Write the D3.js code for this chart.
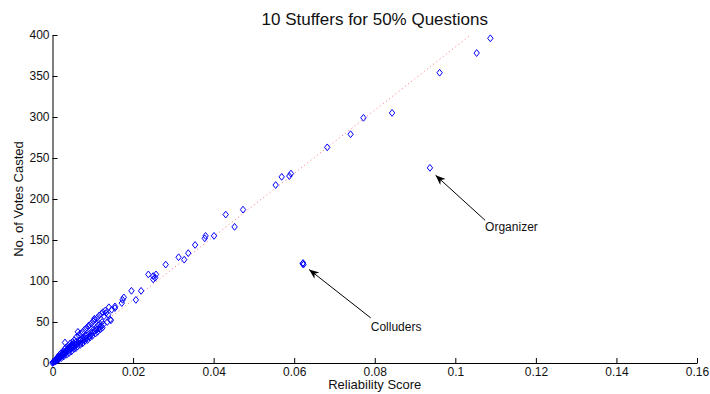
<!DOCTYPE html>
<html>
<head>
<meta charset="utf-8">
<script src="https://cdn.jsdelivr.net/npm/d3@7"></script>
<style>
  body { margin: 0; background: #fff; }
  svg { font-family: "Liberation Sans", Arial, sans-serif; }
</style>
</head>
<body>
<div id="chart"></div>
<script>
// reliability score vs votes casted, one entry per voter
const scoreValues = [
  0.0000, 0.0001, 0.0002, 0.0003, 0.0004, 0.0005, 0.0006, 0.0006, 0.0007, 0.0008,
  0.0009, 0.0010, 0.0010, 0.0011, 0.0012, 0.0013, 0.0013, 0.0014, 0.0015, 0.0016,
  0.0017, 0.0018, 0.0019, 0.0020, 0.0021, 0.0022, 0.0023, 0.0024, 0.0025, 0.0026,
  0.0027, 0.0028, 0.0029, 0.0030, 0.0031, 0.0032, 0.0033, 0.0034, 0.0035, 0.0036,
  0.0037, 0.0038, 0.0039, 0.0040, 0.0042, 0.0043, 0.0045, 0.0046, 0.0048, 0.0049,
  0.0050, 0.0052, 0.0053, 0.0055, 0.0056, 0.0058, 0.0059, 0.0061, 0.0063, 0.0064,
  0.0066, 0.0068, 0.0070, 0.0072, 0.0074, 0.0076, 0.0078, 0.0080, 0.0082, 0.0084,
  0.0086, 0.0089, 0.0090, 0.0092, 0.0095, 0.0097, 0.0100, 0.0102, 0.0104, 0.0105,
  0.0108, 0.0110, 0.0113, 0.0115, 0.0118, 0.0120, 0.0123, 0.0126, 0.0128, 0.0133,
  0.0136, 0.0138, 0.0143, 0.0145, 0.0147, 0.0155, 0.0155, 0.0172, 0.0174, 0.0177,
  0.0196, 0.0207, 0.0220, 0.0238, 0.0250, 0.0250, 0.0255, 0.0257, 0.0281, 0.0313,
  0.0327, 0.0337, 0.0354, 0.0378, 0.0380, 0.0401, 0.0430, 0.0452, 0.0473, 0.0554,
  0.0569, 0.0588, 0.0592, 0.0682, 0.0740, 0.0772, 0.0843, 0.0961, 0.1053, 0.1087,
  0.0937,
  0.0621, 0.0622, 0.0623,
  // extra spread inside the dense band
  0.0012, 0.0017, 0.0021, 0.0026, 0.0030, 0.0034, 0.0040, 0.0044, 0.0050, 0.0054,
  0.0060, 0.0065, 0.0070, 0.0075, 0.0080, 0.0085, 0.0091, 0.0096, 0.0101, 0.0106,
  0.0111, 0.0116, 0.0121, 0.0125, 0.0131, 0.0140,
  0.0008, 0.0015, 0.0022, 0.0028, 0.0035, 0.0041, 0.0047, 0.0053, 0.0058, 0.0062,
  0.0069, 0.0075, 0.0081, 0.0087, 0.0093, 0.0099, 0.0107, 0.0112, 0.0119, 0.0124
];
const voteValues = [
  0, 1, 1, 1, 2, 2, 3, 2, 3, 4,
  3, 4, 5, 4, 5, 6, 4, 6, 7, 6,
  7, 8, 7, 9, 8, 10, 9, 11, 9, 12,
  10, 12, 11, 13, 25, 12, 14, 15, 13, 16,
  14, 17, 15, 18, 16, 19, 17, 20, 18, 22,
  19, 21, 24, 20, 23, 22, 26, 23, 38, 25,
  27, 24, 28, 26, 30, 28, 31, 29, 33, 30,
  34, 45, 32, 36, 34, 38, 37, 41, 54, 39,
  43, 41, 46, 42, 48, 45, 50, 47, 57, 61,
  50, 59, 53, 52, 65, 67, 69, 73, 77, 80,
  88, 77, 88, 108, 102, 106, 104, 108, 120, 129,
  126, 134, 144, 152, 155, 155, 181, 166, 187, 217,
  227, 228, 231, 263, 279, 299, 305, 354, 378, 396,
  238,
  121, 122, 120,
  7, 10, 12, 14, 17, 19, 21, 24, 26, 28,
  32, 34, 36, 38, 41, 43, 46, 48, 51, 53,
  55, 58, 60, 62, 64, 68,
  2, 4, 6, 8, 10, 12, 14, 17, 18, 20,
  22, 24, 27, 28, 31, 33, 36, 38, 41, 43
];

// dotted fit line
const fitScores = [0, 0.1038];
const fitVotes = [0, 400];

const xTicks = [0, 0.02, 0.04, 0.06, 0.08, 0.1, 0.12, 0.14, 0.16];
const xTickLabels = ["0", "0.02", "0.04", "0.06", "0.08", "0.1", "0.12", "0.14", "0.16"];
const yTicks = [0, 50, 100, 150, 200, 250, 300, 350, 400];
const yTickLabels = ["0", "50", "100", "150", "200", "250", "300", "350", "400"];

// annotations: label, text anchor point, arrow tail, arrow head (data units)
const noteLabels = ["Organizer", "Colluders"];
const noteText = [[0.1074, 161], [0.0790, 39]];
const noteTail = [[0.1074, 174], [0.0790, 55]];
const noteHead = [[0.0951, 229], [0.0637, 114]];

const W = 710, H = 394;
const margin = {top: 35, right: 13, bottom: 31, left: 52.5};

const svg = d3.select("#chart").append("svg")
    .attr("width", W)
    .attr("height", H);

const x = d3.scaleLinear().domain([0, 0.16]).range([margin.left, W - margin.right]);
const y = d3.scaleLinear().domain([0, 400]).range([H - margin.bottom, margin.top]);

svg.append("defs").append("marker")
    .attr("id", "head")
    .attr("viewBox", "0 0 10 10")
    .attr("refX", 10).attr("refY", 5)
    .attr("markerWidth", 10).attr("markerHeight", 10)
    .attr("markerUnits", "userSpaceOnUse")
    .attr("orient", "auto")
  .append("path")
    .attr("d", "M0,1 L10,5 L0,9 L3,5 Z")
    .attr("fill", "#000");

// x axis, ticks pointing in
const xAxis = svg.append("g")
    .attr("transform", "translate(0," + y(0) + ")")
    .call(d3.axisBottom(x)
        .tickValues(xTicks)
        .tickFormat((d, i) => xTickLabels[i])
        .tickSizeInner(-5).tickSizeOuter(0).tickPadding(4));

const yAxis = svg.append("g")
    .attr("transform", "translate(" + x(0) + ",0)")
    .call(d3.axisLeft(y)
        .tickValues(yTicks)
        .tickFormat((d, i) => yTickLabels[i])
        .tickSizeInner(-5).tickSizeOuter(0).tickPadding(3));

[xAxis, yAxis].forEach(g => {
  g.style("font", "12px 'Liberation Sans', Arial, sans-serif");
  g.selectAll("path, line").attr("stroke", "#000");
  g.selectAll("text").attr("fill", "#111");
});

// fit line
svg.append("path")
    .datum(d3.zip(fitScores, fitVotes))
    .attr("fill", "none")
    .attr("stroke", "#ff7070")
    .attr("stroke-width", 1)
    .attr("stroke-dasharray", "1,3")
    .attr("d", d3.line().x(d => x(d[0])).y(d => y(d[1])));

// diamond markers
svg.append("g")
  .selectAll("path")
  .data(d3.zip(scoreValues, voteValues))
  .join("path")
    .attr("transform", d => "translate(" + x(d[0]) + "," + y(d[1]) + ")")
    .attr("d", "M0,-3.4 L2.7,0 L0,3.4 L-2.7,0 Z")
    .attr("fill", "none")
    .attr("stroke", "#0000ff")
    .attr("stroke-width", 1);

// annotations
noteLabels.forEach((lab, i) => {
  svg.append("line")
      .attr("x1", x(noteTail[i][0])).attr("y1", y(noteTail[i][1]))
      .attr("x2", x(noteHead[i][0])).attr("y2", y(noteHead[i][1]))
      .attr("stroke", "#000")
      .attr("stroke-width", 1)
      .attr("marker-end", "url(#head)");
  svg.append("text")
      .attr("x", x(noteText[i][0]))
      .attr("y", y(noteText[i][1]))
      .attr("font-size", 12)
      .attr("fill", "#111")
      .text(lab);
});

// title and axis labels
svg.append("text")
    .attr("x", (x(0) + x(0.16)) / 2)
    .attr("y", 25)
    .attr("text-anchor", "middle")
    .attr("font-size", 17)
    .attr("fill", "#111")
    .text("10 Stuffers for 50% Questions");

svg.append("text")
    .attr("x", (x(0) + x(0.16)) / 2)
    .attr("y", 389)
    .attr("text-anchor", "middle")
    .attr("font-size", 13)
    .attr("fill", "#111")
    .text("Reliability Score");

svg.append("text")
    .attr("transform", "translate(23," + (y(0) + y(400)) / 2 + ") rotate(-90)")
    .attr("text-anchor", "middle")
    .attr("font-size", 13)
    .attr("fill", "#111")
    .text("No. of Votes Casted");
</script>
</body>
</html>
